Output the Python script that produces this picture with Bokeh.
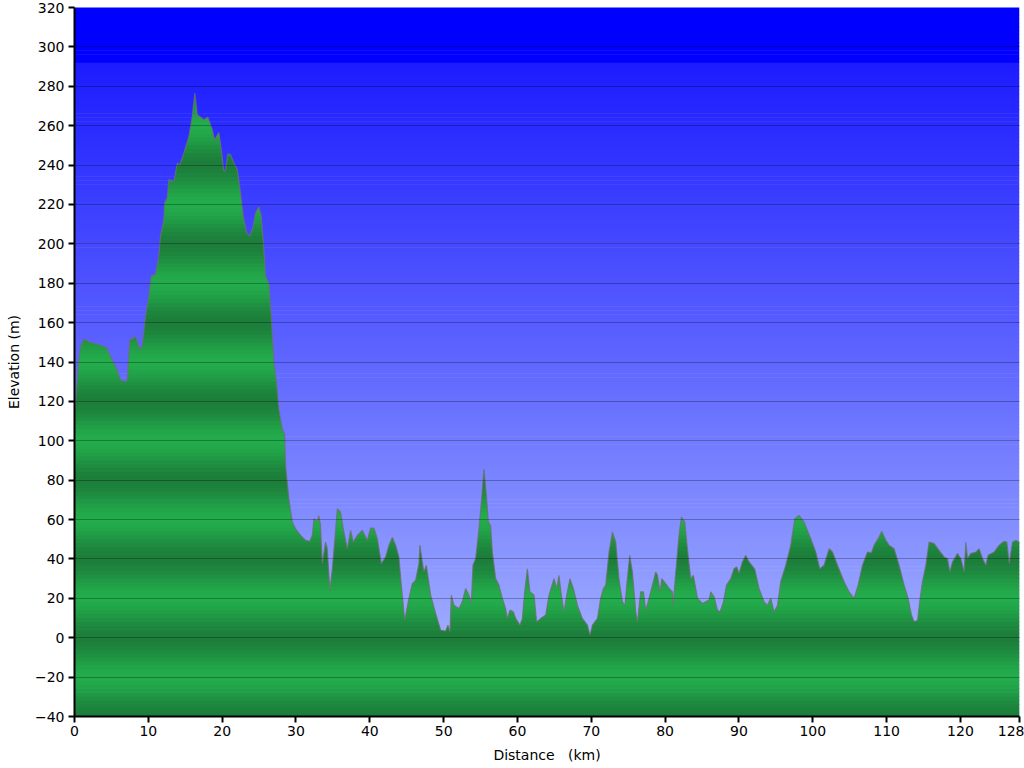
import numpy as np
from bokeh.plotting import figure
from bokeh.models import Range1d, FixedTicker, ColumnDataSource
from bokeh.embed import file_html
from bokeh.resources import INLINE

# ---- data ----
distance_km = [0.0, 0.14, 0.54, 0.81, 1.26, 2.17, 3.08, 3.97, 4.43, 5.11, 5.79, 6.23, 6.91, 7.14, 7.49, 8.27,
    8.85, 9.17, 9.62, 10.07, 10.39, 10.98, 11.42, 11.65, 12.10, 12.20, 12.56, 12.78, 13.46, 13.92, 14.27,
    14.81, 15.49, 15.95, 16.30, 16.63, 17.52, 18.06, 18.66, 18.97, 19.55, 19.88, 20.23, 20.46, 20.77,
    21.14, 21.59, 22.05, 22.49, 22.86, 23.31, 23.75, 24.21, 24.53, 24.97, 25.30, 25.65, 25.88, 26.33,
    26.65, 27.01, 27.37, 27.68, 28.14, 28.46, 28.59, 29.04, 29.50, 29.95, 30.62, 31.30, 31.88, 32.21,
    32.43, 32.89, 33.10, 33.33, 33.56, 34.01, 34.24, 34.59, 34.92, 35.23, 35.60, 36.04, 36.41, 36.95,
    37.40, 37.76, 38.31, 38.98, 39.66, 40.11, 40.56, 41.02, 41.56, 42.14, 42.59, 43.05, 43.50, 43.94,
    44.27, 44.72, 45.30, 45.76, 46.21, 46.65, 46.79, 47.11, 47.33, 47.66, 48.24, 48.92, 49.59, 50.27,
    50.58, 50.85, 51.04, 51.40, 52.07, 52.53, 52.98, 53.43, 53.75, 53.97, 54.34, 54.78, 55.11, 55.46,
    55.79, 56.06, 56.37, 56.60, 57.05, 57.49, 57.95, 58.40, 58.63, 58.98, 59.44, 59.76, 60.34, 60.66,
    60.98, 61.34, 61.69, 62.24, 62.60, 63.14, 63.82, 64.27, 64.95, 65.31, 65.62, 65.95, 66.30, 66.67,
    67.11, 67.57, 68.12, 68.79, 69.47, 69.82, 70.15, 70.83, 71.27, 71.64, 71.95, 72.40, 72.86, 73.31,
    73.75, 74.21, 74.57, 74.80, 75.20, 75.57, 76.02, 76.25, 76.69, 77.06, 77.37, 77.82, 78.28, 78.73,
    78.96, 79.31, 79.54, 80.08, 80.53, 80.99, 81.07, 81.44, 81.88, 82.21, 82.66, 83.02, 83.47, 83.83,
    84.38, 85.05, 85.95, 86.18, 86.63, 87.09, 87.44, 87.90, 88.31, 88.89, 89.34, 89.70, 90.01, 90.47,
    90.92, 91.37, 92.14, 92.72, 93.40, 93.86, 94.31, 94.76, 95.22, 95.66, 96.34, 97.02, 97.56, 98.14,
    98.82, 99.73, 100.41, 100.95, 101.53, 102.21, 102.67, 103.35, 104.24, 104.92, 105.60, 106.14,
    106.73, 107.41, 107.95, 108.31, 108.85, 109.35, 109.89, 110.34, 111.02, 111.69, 112.37, 112.91,
    113.37, 113.73, 114.19, 114.54, 114.86, 115.31, 115.76, 116.44, 117.11, 117.79, 118.25, 118.56,
    118.93, 119.60, 120.05, 120.50, 120.73, 120.96, 121.41, 122.09, 122.53, 122.99, 123.44, 123.75,
    124.56, 125.24, 125.92, 126.29, 126.60, 127.06, 127.51, 127.95, 128.0]
elevation_m = [115, 119, 140, 148, 151.6, 150, 149, 148, 146.5, 141, 136, 131, 130, 130.6, 151, 153,
    146.5, 148, 163, 173.5, 183.6, 184.5, 193.8, 203.9, 212.3, 220.8, 223.3, 232.6, 231.7, 241, 240,
    246, 254.5, 264.6, 276.5, 265.5, 263, 264.3, 258, 252.8, 256.5, 247.8, 236.8, 237.6, 245.7,
    245.2, 241, 237.6, 225.8, 214, 205.6, 203.9, 209, 215.7, 218.7, 214, 197, 183.6, 180,
    163, 139.7, 129.6, 116, 106, 103.4, 87.4, 70.5, 58.7, 55.3, 52, 49.5, 49, 52,
    60.4, 59, 62, 57, 37.6, 48.6, 45.2, 24.1, 35, 48.6, 65.5, 63.8, 55.3, 45.2,
    54.5, 48.6, 52, 54.5, 49.5, 55.7, 55.7, 50.3, 37.6, 41, 47, 51, 47, 41,
    26.7, 9, 20, 27.5, 29.2, 37.6, 47, 38.5, 33.4, 36.8, 21.6, 12.3, 3.9, 3.4,
    6.4, 3, 21.6, 16.5, 14.8, 18.2, 25, 21.6, 17.4, 36.8, 40.2, 55.3, 68.9, 85.7,
    72.3, 58.7, 57, 43.5, 30, 26.7, 20, 14.8, 9.8, 14, 13.2, 9.8, 6.4, 9.8,
    23.3, 35, 23.3, 21.6, 8, 9.8, 11.5, 21.6, 30, 25, 31.7, 21.6, 13.2, 21.6,
    30, 25, 16.5, 9.8, 6.4, 1.35, 6.4, 9.8, 20, 25, 26.7, 43.5, 53.7, 48.6,
    30, 18.2, 16.5, 26.7, 41.9, 33.4, 13.2, 8.1, 23.3, 23.3, 14, 20, 26.7, 33.4,
    31.7, 23.3, 30, 27.5, 25, 23.3, 16.5, 33.4, 52, 61.3, 58.7, 45.2, 30, 31.7,
    20, 17.4, 19.1, 23.3, 20.8, 14, 13.2, 18.2, 26.7, 30, 35, 36, 32.6, 38.5,
    41.9, 38.5, 34.8, 25, 18.2, 16.5, 20, 13.2, 16.5, 28.4, 36.8, 47, 60.4, 62.1,
    58.7, 50.3, 43.5, 35, 36.8, 45.2, 43.5, 36.8, 28.4, 23.3, 20, 26.7,
    36.8, 43.5, 43.2, 47, 50.3, 54, 49.5, 47, 45.2, 36.8, 26.7, 20,
    11.5, 8.1, 8.9, 20, 28.4, 36.8, 48.6, 47.8, 44.4, 41, 40.2, 33.4,
    38.5, 42.8, 40.2, 33.4, 48.6, 40.2, 42.8, 43.5, 45.2, 40.2, 36.8, 41.9,
    43.5, 47, 49, 48.6, 37.6, 48.6, 49.5, 48.6, 48.6]

x_ticks = [0, 10, 20, 30, 40, 50, 60, 70, 80, 90, 100, 110, 120, 128]
y_ticks = list(range(-40, 321, 20))

X_MIN, X_MAX = 0, 128
Y_MIN, Y_MAX = -40, 320

km = np.array(distance_km, dtype=float)
ele = np.array(elevation_m, dtype=float)


def with_crossings(x, y, levels):
    """Insert the exact points where the profile crosses the given levels."""
    xs, ys = [x[0]], [y[0]]
    for i in range(len(x) - 1):
        x0, y0, x1, y1 = x[i], y[i], x[i + 1], y[i + 1]
        ts = []
        for L in levels:
            if (y0 - L) * (y1 - L) < 0:
                ts.append((L - y0) / (y1 - y0))
        for t in sorted(ts):
            xs.append(x0 + t * (x1 - x0))
            ys.append(y0 + t * (y1 - y0))
        xs.append(x1)
        ys.append(y1)
    return np.array(xs), np.array(ys)


p = figure(width=1024, height=766, output_backend="svg", toolbar_location=None,
           x_range=Range1d(X_MIN, X_MAX), y_range=Range1d(Y_MIN, Y_MAX),
           min_border_left=74, min_border_right=5, min_border_top=7, min_border_bottom=50,
           background_fill_color="white", border_fill_color="white")
p.outline_line_color = None

# ---- sky gradient (style strips) ----
step = 2.0
bots = np.arange(Y_MIN, Y_MAX, step)
tops = bots + step + 0.3
cols = []
for b in bots:
    v = b + step / 2
    if v >= 292:
        cols.append("#0000ff")
    else:
        t = min(max((292 - v) / 292.0, 0), 1.2)
        r = int(min(255, 28 + (158 - 28) * t))
        g = int(min(255, 28 + (172 - 28) * t))
        cols.append("#%02x%02x%02x" % (r, g, 255))
sky = ColumnDataSource(dict(left=[X_MIN] * len(bots), right=[X_MAX] * len(bots),
                            bottom=bots, top=tops, color=cols))
p.quad(left="left", right="right", bottom="bottom", top="top", fill_color="color",
       line_color=None, source=sky)

# ---- terrain with banded green ----
dark = np.array([28, 126, 58])
light = np.array([35, 172, 76])
gstep = 2.0
for b in np.arange(Y_MIN, ele.max() + gstep, gstep):
    v = b + gstep / 2
    t = (1 - np.cos(2 * np.pi * v / 40.0)) / 2
    c = dark + (light - dark) * t
    colr = "#%02x%02x%02x" % tuple(int(round(x)) for x in c)
    top = b + gstep + 0.35
    xs, ys = with_crossings(km, ele, [b, top])
    upper = np.clip(ys, b, top)
    p.varea(x=xs, y1=np.full_like(xs, b), y2=upper, fill_color=colr)

p.line(km, ele, line_color="#707070", line_alpha=0.75, line_width=1.2)

# ---- axes and grid ----
p.xgrid.visible = False
p.ygrid.ticker = FixedTicker(ticks=y_ticks)
p.ygrid.grid_line_color = "black"
p.ygrid.grid_line_alpha = 0.28
p.ygrid.grid_line_width = 1
p.ygrid.level = "overlay"

p.xaxis.ticker = FixedTicker(ticks=x_ticks)
p.yaxis.ticker = FixedTicker(ticks=y_ticks)
p.xaxis.axis_label = "Distance\u00a0\u00a0 (km)"
p.yaxis.axis_label = "Elevation (m)"
for ax in (p.xaxis, p.yaxis):
    ax.axis_line_color = "black"
    ax.axis_line_width = 2
    ax.major_tick_line_color = "black"
    ax.major_tick_line_width = 2
    ax.major_tick_out = 6
    ax.major_tick_in = 0
    ax.minor_tick_line_color = None
    ax.major_label_text_font = "DejaVu Sans"
    ax.major_label_text_font_size = "14px"
    ax.major_label_text_color = "black"
    ax.axis_label_text_font = "DejaVu Sans"
    ax.axis_label_text_font_size = "14px"
    ax.axis_label_text_font_style = "normal"
    ax.axis_label_text_color = "black"
p.xaxis.major_label_standoff = 3
p.xaxis.axis_label_standoff = 8
p.yaxis.major_label_standoff = 4
p.yaxis.axis_label_standoff = 10

open("out.html", "w").write(file_html(p, INLINE))
